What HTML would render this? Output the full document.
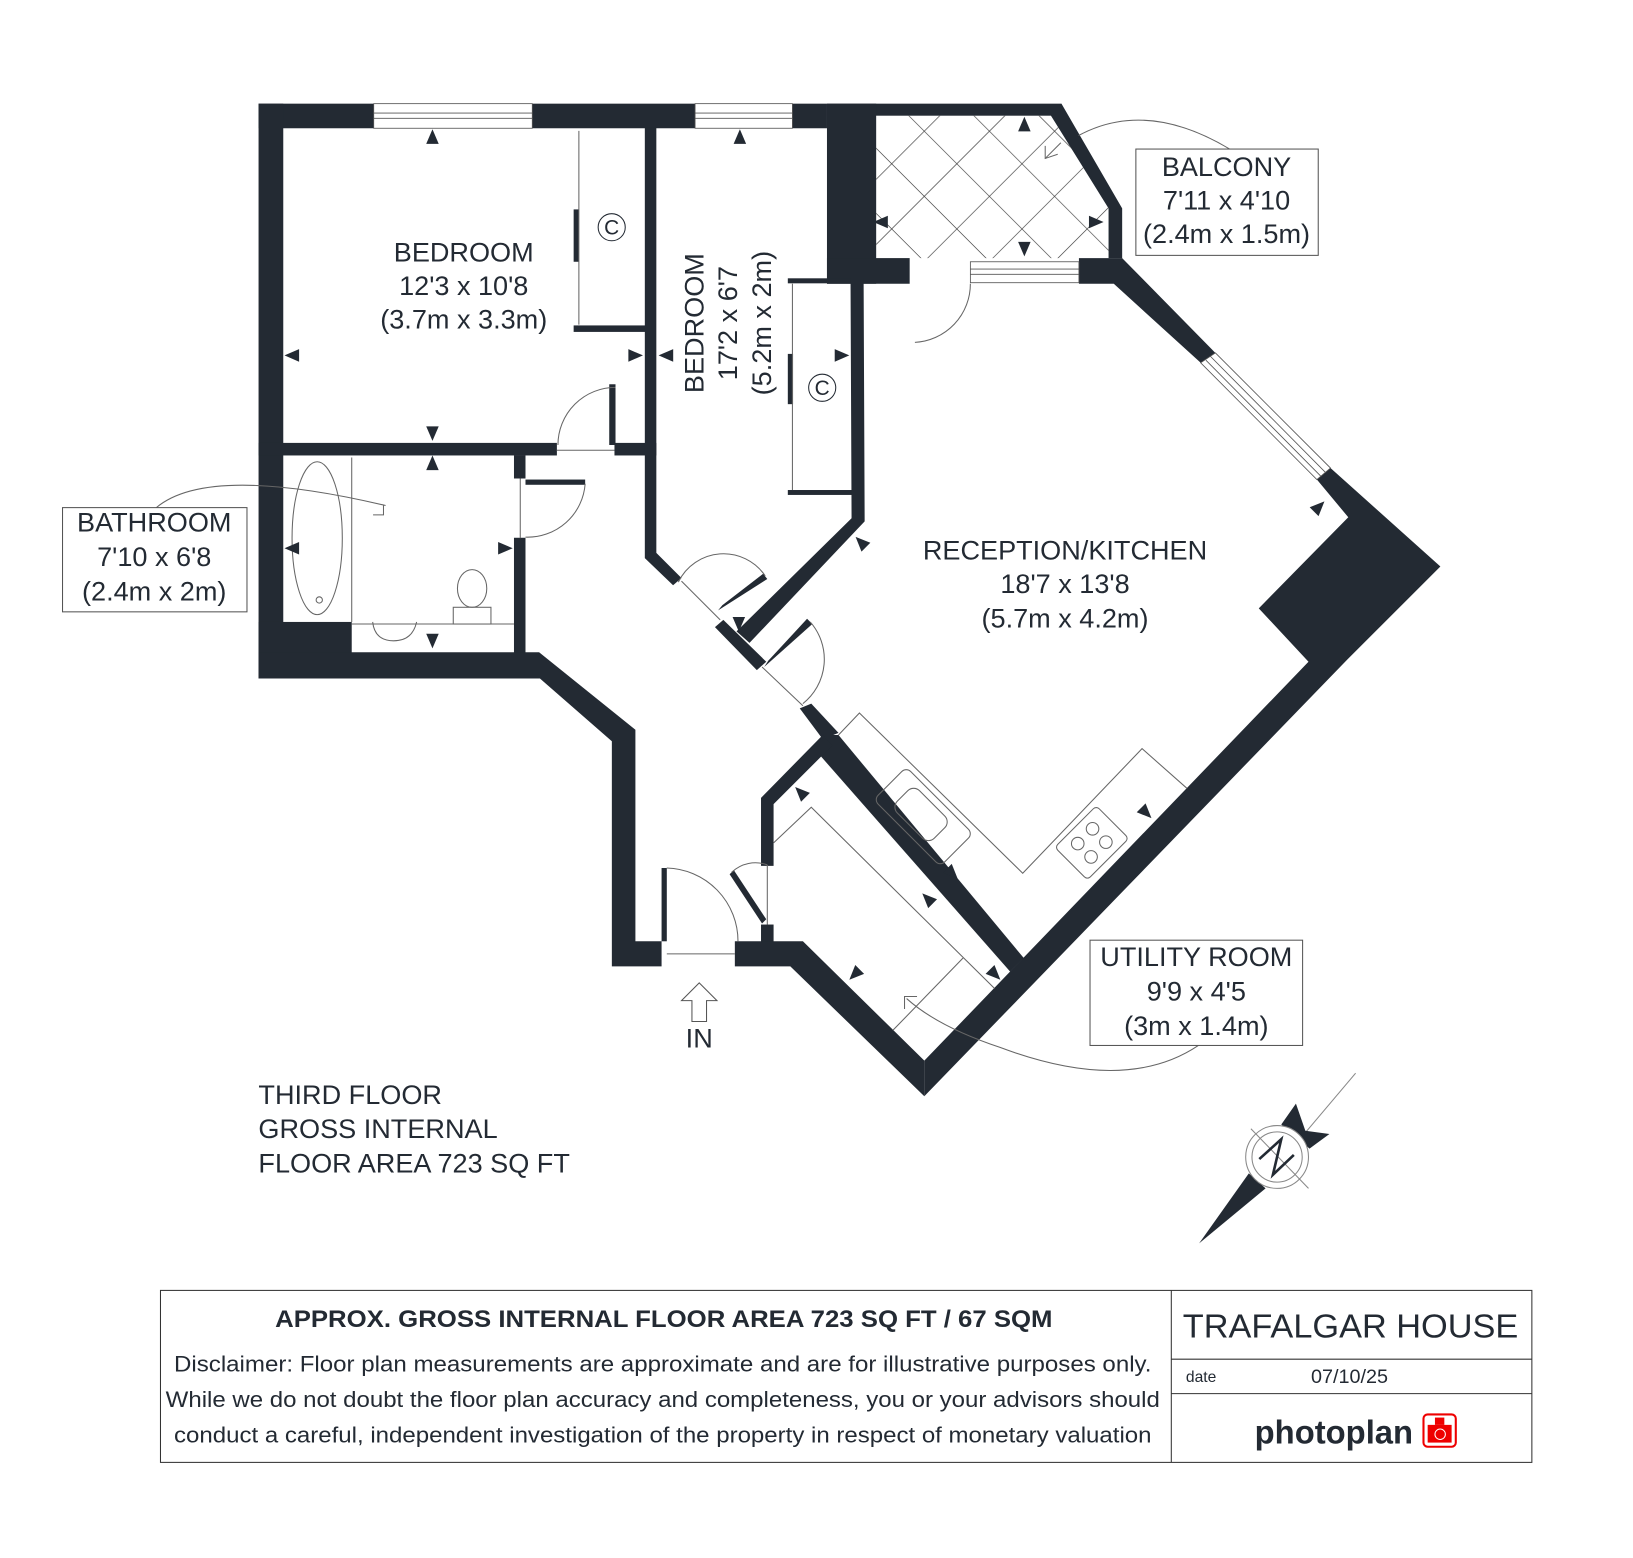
<!DOCTYPE html>
<html><head><meta charset="utf-8"><style>html,body{margin:0;padding:0;background:#fff}svg{display:block}</style></head>
<body>
<svg width="1633" height="1558" viewBox="0 0 1560 1488" preserveAspectRatio="none" xmlns="http://www.w3.org/2000/svg" font-family="Liberation Sans, Arial, sans-serif">
<defs>
<pattern id="hatch" patternUnits="userSpaceOnUse" width="44" height="44" patternTransform="rotate(45 837 110)">
<rect width="44" height="44" fill="#fff"/>
<line x1="0" y1="0" x2="44" y2="0" stroke="#333" stroke-width="1.2"/>
<line x1="0" y1="0" x2="0" y2="44" stroke="#333" stroke-width="1.2"/>
</pattern>
<path id="t" d="M0,-7 L6,7 L-6,7Z" fill="#232a33"/>
</defs>
<rect width="1560" height="1488" fill="#fff"/>

<polygon points="837,110.5 1004,110.5 1059,199 1059,246.5 837,246.5" fill="url(#hatch)"/>

<g fill="#232a33">
<rect x="247" y="99" width="543" height="23.5"/>
<rect x="790" y="99" width="224" height="11.5"/>
<rect x="790" y="99" width="47" height="172"/>
<polygon points="1014,99 1072,199 1072,246.5 1059,246.5 1059,199 1004,110.5"/>
<rect x="790" y="246.5" width="79" height="24.5"/>
<rect x="247" y="99" width="23.6" height="549"/>
<rect x="247" y="423" width="285" height="12"/>
<rect x="587" y="423" width="40" height="12"/>
<rect x="582" y="367" width="6" height="58"/>
<rect x="548" y="310.8" width="70" height="6.2"/>
<rect x="548" y="200" width="5" height="50"/>
<polygon points="616,122 627,122 627,528 651,552 643,559 616,533"/>
<rect x="752.6" y="265.8" width="70" height="4.8"/>
<rect x="752.6" y="468" width="70" height="4.7"/>
<rect x="752.6" y="338" width="5" height="48"/>
<polygon points="812.5,265 825,265 826,498 716,614 703.6,603 813.5,495"/>
<polygon points="683,599 691,592 732,632 723,640"/>
<polygon points="686,583 690,578 729,548 733,553"/>
<polygon points="730,637 734,631 771,591 776,596"/>
<polygon points="764,676.5 775,672 801,700 786,706"/>
<polygon points="786,702 801,702 978,915 965,928 783,721"/>
<polygon points="786,702 795,712 739,768 739,827 727,827 727,762"/>
<rect x="727" y="883" width="12" height="22"/>
<polygon points="697,835 701,831 732,878 728,882"/>
<polygon points="702,899 767,899 883,1013 883,1047 755,923 702,923"/>
<rect x="491" y="435" width="11" height="22"/>
<rect x="491" y="513.6" width="11" height="112"/>
<rect x="502" y="458" width="57" height="5"/>
<rect x="247" y="594" width="89" height="54"/>
<polygon points="247,623 515,623 607,697 607,899 632,899 632,923 584.5,923 584.5,708 515.8,648 247,648"/>
<rect x="632" y="829" width="5" height="70"/>
<polygon points="1030.7,246.5 1072,246.5 1161,337 1147,346.5 1064,271 1030.7,271"/>
<polygon points="1271,447 1376,541 1287,630 883,1047 883,1013 1250,632 1202.5,581 1288,494 1258,458"/>
</g>

<g fill="#fff" stroke="#555" stroke-width="0.8">
<rect x="357" y="99" width="151.5" height="23.5"/>
<rect x="664" y="99" width="93" height="23.5"/>
<rect x="927" y="250" width="103.7" height="20"/>
</g>
<g stroke="#555" stroke-width="0.8">
<line x1="357" y1="108" x2="508.5" y2="108"/><line x1="357" y1="113" x2="508.5" y2="113"/>
<line x1="664" y1="108" x2="757" y2="108"/><line x1="664" y1="113" x2="757" y2="113"/>
<line x1="927" y1="257" x2="1030.7" y2="257"/><line x1="927" y1="262" x2="1030.7" y2="262"/>
</g>
<polygon points="1161,337 1271,447 1258,458 1147,346.5" fill="#fff" stroke="#555" stroke-width="0.8"/>
<line x1="1156" y1="340" x2="1266" y2="451" stroke="#555" stroke-width="0.8"/>
<line x1="1152" y1="344" x2="1262" y2="455" stroke="#555" stroke-width="0.8"/>

<g fill="none" stroke="#666" stroke-width="1">
<line x1="553" y1="125" x2="553" y2="310"/>
<line x1="757" y1="271" x2="757" y2="468"/>
<path d="M588,370 A55,55 0 0 0 533,425"/>
<line x1="532" y1="430" x2="587" y2="430"/>
<path d="M559,462 A55,55 0 0 1 502,513"/>
<line x1="497" y1="457" x2="497" y2="514"/>
<path d="M874,327 A56,56 0 0 0 927,271"/>
<path d="M648,556 A48,48 0 0 1 731,550"/>
<line x1="651" y1="555" x2="688" y2="592"/>
<path d="M774,594 A54,54 0 0 1 767,672"/>
<line x1="728" y1="637" x2="767" y2="674"/>
<path d="M637,829 A70,70 0 0 1 705,899"/>
<line x1="637" y1="911" x2="702" y2="911"/>
<path d="M699,833 A33,33 0 0 1 733,826"/>
<line x1="733" y1="826" x2="733" y2="883"/>
<ellipse cx="303" cy="514" rx="24" ry="73"/>
<circle cx="305" cy="573" r="3"/>
<line x1="336" y1="437" x2="336" y2="594"/>
<line x1="336" y1="596" x2="491" y2="596"/>
<path d="M356,594 q2,18 20,18 q18,0 22,-18"/>
<ellipse cx="451" cy="562" rx="14" ry="18"/>
<rect x="433" y="580" width="36" height="16"/>
<polyline points="801,702 821,681 977,834 1091,715 1134,753"/>
<polyline points="739,805 775,771 950,944"/>
<line x1="920" y1="915" x2="853" y2="984"/>
<g transform="translate(882,780) rotate(45)"><rect x="-45" y="-22" width="90" height="44" rx="6"/><rect x="-28" y="-15" width="50" height="30" rx="8"/></g>
<g transform="translate(1043,805) rotate(-45)"><rect x="-28" y="-22" width="56" height="44" rx="4"/><circle cx="-10" cy="-9" r="6"/><circle cx="10" cy="-9" r="6"/><circle cx="-10" cy="9" r="6"/><circle cx="10" cy="9" r="6"/></g>
</g>

<!-- compass (from zoom) -->
<g>
<line x1="1295" y1="1025" x2="1240" y2="1090" stroke="#888" stroke-width="1"/>
<polygon points="1145.5,1187.5 1193,1120.6 1209,1135" fill="#232a33"/>
<polygon points="1224,1074 1238,1054 1247,1080 1270,1083 1251,1097" fill="#232a33"/>
<circle cx="1220" cy="1105" r="30" fill="#fff" stroke="#888" stroke-width="1"/>
<circle cx="1220" cy="1105" r="24" fill="none" stroke="#888" stroke-width="1"/>
<line x1="1195" y1="1078" x2="1250" y2="1135" stroke="#888" stroke-width="1"/>
<polyline points="1203,1107 1224,1088 1216,1122 1236,1103" fill="none" stroke="#232a33" stroke-width="2.5"/>
</g>

<g transform="scale(0.9955)">
<g fill="none" stroke="#666" stroke-width="1">
<path d="M1180,143 Q1100,95 1035,130"/>
<polyline points="1003,140 1003,152 1015,148"/>
<line x1="1003" y1="152" x2="1018" y2="137"/>
<path d="M150,487 Q200,445 370,485"/>
<polyline points="358,494 368,494 368,484"/>
<path d="M1150,1003 Q1080,1050 960,1005 Q900,985 870,958"/>
<polyline points="868,968 868,956 880,956"/>
</g>

<use href="#t" transform="translate(415,131)"/>
<use href="#t" transform="translate(415,416) rotate(180)"/>
<use href="#t" transform="translate(415,444)"/>
<use href="#t" transform="translate(280,341) rotate(270)"/>
<use href="#t" transform="translate(610,341) rotate(90)"/>
<use href="#t" transform="translate(639,341) rotate(270)"/>
<use href="#t" transform="translate(710,131)"/>
<use href="#t" transform="translate(808,341) rotate(90)"/>
<use href="#t" transform="translate(983,119)"/>
<use href="#t" transform="translate(983,239) rotate(180)"/>
<use href="#t" transform="translate(845,213) rotate(270)"/>
<use href="#t" transform="translate(1052,213) rotate(90)"/>
<use href="#t" transform="translate(280,526) rotate(270)"/>
<use href="#t" transform="translate(485,526) rotate(90)"/>
<use href="#t" transform="translate(415,615) rotate(180)"/>
<use href="#t" transform="translate(709,599) rotate(180)"/>
<use href="#t" transform="translate(826,520) rotate(-45)"/>
<use href="#t" transform="translate(1266,486) rotate(45)"/>
<use href="#t" transform="translate(1100,780) rotate(135)"/>
<use href="#t" transform="translate(914,838) rotate(135)"/>
<use href="#t" transform="translate(890,862) rotate(-45)"/>
<use href="#t" transform="translate(768,760) rotate(-45)"/>
<use href="#t" transform="translate(820,935) rotate(225)"/>
<use href="#t" transform="translate(955,935) rotate(135)"/>

<g fill="none" stroke="#232a33" stroke-width="1">
<circle cx="587" cy="218" r="13"/>
<circle cx="789" cy="372" r="13"/>
</g>
<g fill="#232a33" font-size="20" text-anchor="middle">
<text x="587" y="225">C</text>
<text x="789" y="379">C</text>
</g>

<g fill="#232a33" font-size="26" text-anchor="middle">
<text x="445" y="251">BEDROOM</text>
<text x="445" y="283">12'3 x 10'8</text>
<text x="445" y="315">(3.7m x 3.3m)</text>
<g transform="translate(675,310) rotate(-90)"><text x="0" y="0">BEDROOM</text></g>
<g transform="translate(707,310) rotate(-90)"><text x="0" y="0">17'2 x 6'7</text></g>
<g transform="translate(740,310) rotate(-90)"><text x="0" y="0">(5.2m x 2m)</text></g>
<text x="1022" y="537">RECEPTION/KITCHEN</text>
<text x="1022" y="569">18'7 x 13'8</text>
<text x="1022" y="602">(5.7m x 4.2m)</text>
<text x="671" y="1005">IN</text>
</g>
<g fill="#fff" stroke="#555" stroke-width="1">
<rect x="1090" y="143" width="175" height="102"/>
<rect x="60" y="487" width="177" height="100"/>
<rect x="1046" y="902" width="204" height="101"/>
</g>
<g fill="#232a33" font-size="26" text-anchor="middle">
<text x="1177" y="169">BALCONY</text>
<text x="1177" y="201">7'11 x 4'10</text>
<text x="1177" y="233">(2.4m x 1.5m)</text>
<text x="148" y="510">BATHROOM</text>
<text x="148" y="543">7'10 x 6'8</text>
<text x="148" y="576">(2.4m x 2m)</text>
<text x="1148" y="927">UTILITY ROOM</text>
<text x="1148" y="960">9'9 x 4'5</text>
<text x="1148" y="993">(3m x 1.4m)</text>
</g>
<polygon points="671,943 688,960 678,960 678,980 664,980 664,960 654,960" fill="#fff" stroke="#555" stroke-width="1"/>

<g fill="#232a33" font-size="26">
<text x="248" y="1059">THIRD FLOOR</text>
<text x="248" y="1092">GROSS INTERNAL</text>
<text x="248" y="1125">FLOOR AREA 723 SQ FT</text>
</g>

<g fill="none" stroke="#333" stroke-width="1">
<rect x="154" y="1238" width="1316" height="165"/>
<line x1="1124" y1="1238" x2="1124" y2="1403"/>
<line x1="1124" y1="1304" x2="1470" y2="1304"/>
<line x1="1124" y1="1337" x2="1470" y2="1337"/>
</g>
<g fill="#232a33">
<text x="637" y="1273" font-size="23" font-weight="bold" text-anchor="middle" textLength="746" lengthAdjust="spacingAndGlyphs">APPROX. GROSS INTERNAL FLOOR AREA 723 SQ FT / 67 SQM</text>
<text x="636" y="1316" font-size="21" text-anchor="middle" textLength="938" lengthAdjust="spacingAndGlyphs">Disclaimer: Floor plan measurements are approximate and are for illustrative purposes only.</text>
<text x="636" y="1350" font-size="21" text-anchor="middle" textLength="954" lengthAdjust="spacingAndGlyphs">While we do not doubt the floor plan accuracy and completeness, you or your advisors should</text>
<text x="636" y="1384" font-size="21" text-anchor="middle" textLength="938" lengthAdjust="spacingAndGlyphs">conduct a careful, independent investigation of the property in respect of monetary valuation</text>
<text x="1296" y="1283" font-size="32" text-anchor="middle" textLength="322" lengthAdjust="spacingAndGlyphs">TRAFALGAR HOUSE</text>
<text x="1138" y="1326" font-size="15">date</text>
<text x="1295" y="1327" font-size="19" text-anchor="middle">07/10/25</text>
<text x="1280" y="1385" font-size="32" font-weight="bold" text-anchor="middle" textLength="152" lengthAdjust="spacingAndGlyphs">photoplan</text>
</g>
<g>
<rect x="1366" y="1357" width="31" height="31" rx="4" fill="#fff" stroke="#e00" stroke-width="2"/>
<rect x="1377" y="1360" width="9" height="7" fill="#e00"/>
<rect x="1370" y="1367" width="23" height="17" fill="#e00"/>
<circle cx="1382" cy="1376" r="5" fill="none" stroke="#fff" stroke-width="1"/>
</g>
</g>
</svg>
</body></html>
